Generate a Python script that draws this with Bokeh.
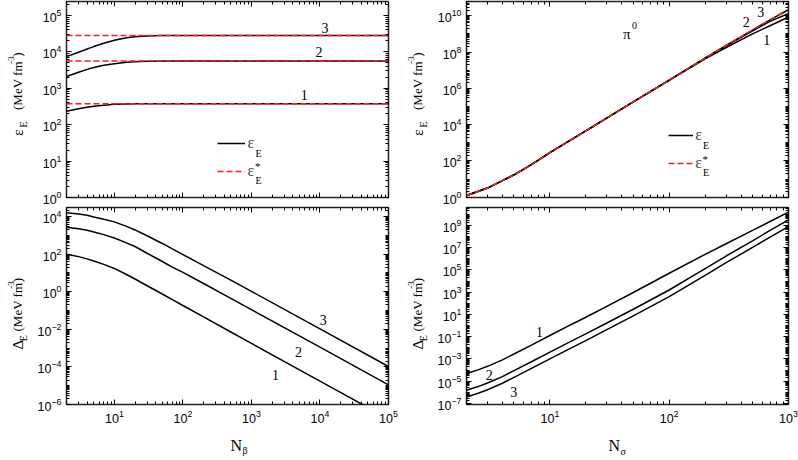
from math import pi
from bokeh.plotting import figure
from bokeh.models import (Range1d, FixedTicker, LogAxis, LogTickFormatter, Label, Legend,
                          LegendItem, CustomJSTickFormatter)
from bokeh.layouts import column, row
from bokeh.embed import file_html
from bokeh.resources import INLINE
from bokeh.core.properties import value

# ---------------- data ----------------
# top-left : eps_E (solid) and eps*_E (dashed) versus N_beta
N_beta_eps = [2, 3, 4, 5, 7, 10, 15, 20, 30, 50, 100, 1000, 100000]
eps_beta_1 = [234, 275, 302, 320, 343, 363, 373, 377, 378, 378, 378, 378, 378]
eps_beta_2 = [2110, 2750, 3310, 3720, 4270, 4730, 5190, 5370, 5560, 5620, 5640, 5640, 5640]
eps_beta_3 = [7410, 9770, 12000, 14000, 17200, 20900, 24500, 26000, 27400, 28200, 28400, 28400, 28400]
eps_star_beta_1 = [378, 378, 378, 378, 378, 378, 378, 378, 378, 378, 378, 378, 378]
eps_star_beta_2 = [5640, 5640, 5640, 5640, 5640, 5640, 5640, 5640, 5640, 5640, 5640, 5640, 5640]
eps_star_beta_3 = [28400, 28400, 28400, 28400, 28400, 28400, 28400, 28400, 28400, 28400, 28400, 28400, 28400]

# bottom-left : Delta_E versus N_beta
N_beta_delta = [2, 3, 4, 5, 7, 10, 15, 20, 30, 50, 70, 100, 200, 500, 1000, 10000, 100000]
delta_beta_1 = [100, 74.1, 56.2, 43.7, 28.8, 17.4, 8.32, 4.79, 2.09, 0.759, 0.380, 0.186,
                4.57e-2, 7.24e-3, 1.78e-3, 1.74e-5, 1.74e-7]
delta_beta_2 = [2690, 2240, 1860, 1510, 1100, 724, 398, 257, 112, 40.7, 20.4, 10.7,
                2.75, 0.447, 0.112, 1.12e-3, 1.12e-5]
delta_beta_3 = [15800, 13800, 11700, 9550, 7240, 5250, 3020, 1950, 955, 372, 191, 95.5,
                24.5, 4.17, 1.05, 1.05e-2, 1.05e-4]

# top-right : eps_E and eps*_E versus N_sigma (pi0)
N_sigma_eps = [2, 3, 4, 5, 7, 10, 15, 20, 50, 100, 200, 300, 500, 700, 1000]
eps_star_sigma = [1.26, 3.24, 8.32, 17.4, 63.1, 288, 1450, 4570, 1.78e5, 2.82e6, 4.57e7,
                  2.29e8, 1.66e9, 6.03e9, 2.24e10]
eps_sigma_3 = [1.26, 3.24, 8.32, 17.4, 63.1, 288, 1450, 4570, 1.78e5, 2.82e6, 4.57e7,
               2.29e8, 1.62e9, 5.89e9, 2.14e10]
eps_sigma_2 = [1.26, 3.24, 8.32, 17.4, 63.1, 288, 1450, 4570, 1.78e5, 2.82e6, 4.57e7,
               2.19e8, 1.48e9, 4.90e9, 1.32e10]
eps_sigma_1 = [1.26, 3.24, 8.32, 17.4, 63.1, 288, 1450, 4570, 1.78e5, 2.75e6, 4.17e7,
               1.78e8, 1.00e9, 2.82e9, 8.51e9]

# bottom-right : Delta_E versus N_sigma
N_sigma_delta = [2, 2.5, 3, 4, 5, 7, 10, 15, 20, 30, 50, 100, 200, 300, 500, 700, 1000]
delta_sigma_1 = [4.90e-5, 1.05e-4, 2.19e-4, 8.32e-4, 2.82e-3, 1.78e-2, 0.129, 1.20, 5.62, 53.7,
                 933, 5.01e4, 2.51e6, 2.24e7, 3.55e8, 2.24e9, 1.58e10]
delta_sigma_2 = [1.55e-6, 3.31e-6, 6.92e-6, 2.63e-5, 8.91e-5, 5.62e-4, 4.07e-3, 3.80e-2, 0.178,
                 1.70, 29.5, 1580, 1.32e5, 1.78e6, 4.17e7, 3.55e8, 3.16e9]
delta_sigma_3 = [3.89e-7, 8.32e-7, 1.74e-6, 6.61e-6, 2.24e-5, 1.41e-4, 1.02e-3, 9.55e-3, 4.47e-2,
                 0.427, 7.41, 398, 3.31e4, 4.47e5, 1.05e7, 8.91e7, 7.94e8]

# tick label exponents
x_beta_major_exp = [1, 2, 3, 4, 5]
x_sigma_major_exp = [1, 2, 3]
tl_y_major_exp = [0, 1, 2, 3, 4, 5]
bl_y_major_exp = [-6, -4, -2, 0, 2, 4]
tr_y_major_exp = [0, 2, 4, 6, 8, 10]
br_y_major_exp = [-7, -5, -3, -1, 1, 3, 5, 7, 9]

# curve number labels (x, y, text)
tl_curve_labels = [(1.18e4, 4.68e4, "3"), (9.7e3, 9.8e3, "2"), (5.9e3, 661, "1")]
bl_curve_labels = [(1.12e4, 0.030, "3"), (4.84e3, 6.3e-4, "2"), (2.25e3, 3.9e-5, "1")]
tr_curve_labels = [(586, 1.66e10, "3"), (442, 4.4e9, "2"), (658, 4.8e8, "1")]
br_curve_labels = [(8.2, 0.275, "1"), (3.11, 3.6e-5, "2"), (4.99, 1.15e-6, "3")]

# ---------------- layout / style ----------------
SANS = "Liberation Sans"
SERIF = "Liberation Serif"
FW = 322
TOP_FH = 196          # top frames: page y 1 .. 197
TOP_BB = 9
BOT_FH = 197          # bottom frames: page y 207 .. 404
BOT_BB = 26
TOP_H = 1 + TOP_FH + TOP_BB
BOT_H = 1 + BOT_FH + BOT_BB
XLAB_H = 460 - TOP_H - BOT_H
TOP_FB = 1 + TOP_FH   # page y of top frames' bottom edge
LAB_W_L = 30
LAB_W_R = 32


def log_ticker(lo_exp, hi_exp, major_exps):
    majors = [10.0 ** e for e in major_exps]
    minors = []
    for e in range(lo_exp, hi_exp + 1):
        for m in range(1, 10):
            if m == 1 and e in major_exps:
                continue
            minors.append(m * 10.0 ** e)
    return FixedTicker(ticks=majors, minor_ticks=minors)


def style_axis(ax, ticker, show_labels):
    ax.ticker = ticker
    ax.axis_line_color = None
    ax.major_tick_in = 5
    ax.major_tick_out = 0
    ax.minor_tick_in = 3
    ax.minor_tick_out = 0
    ax.major_tick_line_color = "black"
    ax.minor_tick_line_color = "black"
    ax.axis_label = None
    if show_labels:
        ax.formatter = LogTickFormatter()
        ax.major_label_text_font = SANS
        ax.major_label_text_font_size = "12.5px"
        ax.major_label_text_color = "black"
        ax.major_label_standoff = 5
    else:
        ax.formatter = CustomJSTickFormatter(code="return ''")
        ax.major_label_text_font_size = "1px"
        ax.major_label_standoff = 0


def make_panel(xr, yr, fh, mbt, mbb, xt, yt, xlabels):
    p = figure(x_axis_type="log", y_axis_type="log",
               x_range=Range1d(*xr), y_range=Range1d(*yr),
               frame_width=FW, frame_height=fh,
               min_border_left=36, min_border_right=10,
               min_border_top=mbt, min_border_bottom=mbb,
               toolbar_location=None, output_backend="svg")
    p.grid.visible = False
    p.outline_line_color = "#222222"
    p.outline_line_width = 1.5
    p.background_fill_color = "white"
    p.border_fill_color = "white"
    style_axis(p.xaxis[0], xt, xlabels)
    style_axis(p.yaxis[0], yt, True)
    top = LogAxis()
    style_axis(top, xt, False)
    p.add_layout(top, "above")
    right = LogAxis()
    style_axis(right, yt, False)
    p.add_layout(right, "right")
    return p


def text_fig(w, h):
    f = figure(width=w, height=h, x_range=Range1d(0, w), y_range=Range1d(h, 0),
               min_border=0, toolbar_location=None, output_backend="svg",
               x_axis_location=None, y_axis_location=None)
    f.grid.visible = False
    f.outline_line_color = None
    f.background_fill_color = "white"
    f.border_fill_color = "white"
    return f


def dtxt(p, x, y, s, size, angle=0.0, font=SERIF, align="left", baseline="alphabetic"):
    p.add_layout(Label(x=x, y=y, text=s, angle=angle, text_font=font, text_font_size=size,
                       text_align=align, text_baseline=baseline, text_color="black"))


def stxt(p, fx, fy, s, size):
    p.add_layout(Label(x=fx, y=fy, x_units="screen", y_units="screen", text=s,
                       text_font=SERIF, text_font_size=size, text_align="left",
                       text_baseline="alphabetic", text_color="black"))


def curve_labels(p, items):
    for (x, y, s) in items:
        p.add_layout(Label(x=x, y=y, text=s, text_font=SERIF, text_font_size="14px",
                           text_align="center", text_baseline="middle", text_color="black"))


def ylabel(f, x0, y0, greek, g, sub, paren, sup, close):
    # positions given in page pixels; (x0, y0) = top-left of the text strip
    a = pi / 2
    dtxt(f, 17 - x0, g - y0, greek, "15px", angle=a)
    dtxt(f, 23 - x0, sub - y0, "E", "10px", angle=a)
    dtxt(f, 17 - x0, paren - y0, "(MeV fm", "13px", angle=a)
    dtxt(f, 10 - x0, sup - y0, "-3", "9px", angle=a)
    dtxt(f, 17 - x0, close - y0, ")", "13px", angle=a)


xt_beta = log_ticker(0, 5, x_beta_major_exp)
xt_sigma = log_ticker(0, 3, x_sigma_major_exp)

# ---- top-left ----
tl = make_panel((2, 1e5), (1, 10 ** (TOP_FH / 36.4)), TOP_FH, 1, TOP_BB,
                xt_beta, log_ticker(0, 6, tl_y_major_exp), False)
s_lines = []
for ys in (eps_beta_1, eps_beta_2, eps_beta_3):
    s_lines.append(tl.line(N_beta_eps, ys, line_color="black", line_width=1.5))
d_lines = []
for ys in (eps_star_beta_1, eps_star_beta_2, eps_star_beta_3):
    d_lines.append(tl.line(N_beta_eps, ys, line_color="#ff1a1a", line_width=1.5, line_dash="6 3"))
curve_labels(tl, tl_curve_labels)
leg = Legend(items=[LegendItem(label=value("ε"), renderers=[s_lines[0]]),
                    LegendItem(label=value("ε"), renderers=[d_lines[0]])],
             location=(150.5, TOP_FB - 180.5), padding=0, margin=0, spacing=8,
             glyph_width=28, glyph_height=20, label_height=20, label_width=8,
             label_standoff=3, border_line_alpha=0, background_fill_alpha=0,
             label_text_font=SERIF, label_text_font_size="16px")
tl.add_layout(leg)
stxt(tl, 189, TOP_FB - 152.5, "E", "10px")
stxt(tl, 188.5, TOP_FB - 165.5, "*", "11px")
stxt(tl, 189, TOP_FB - 179.5, "E", "10px")

# ---- top-right ----
tr = make_panel((2, 1e3), (10 ** -0.01, 10 ** (-0.01 + TOP_FH / 18.16)), TOP_FH, 1, TOP_BB,
                xt_sigma, log_ticker(-1, 11, tr_y_major_exp), False)
r_s = None
for ys in (eps_sigma_1, eps_sigma_2, eps_sigma_3):
    r_s = tr.line(N_sigma_eps, ys, line_color="black", line_width=1.5)
r_d = tr.line(N_sigma_eps, eps_star_sigma, line_color="#ff1a1a", line_width=1.5, line_dash="6 3")
curve_labels(tr, tr_curve_labels)
leg2 = Legend(items=[LegendItem(label=value("ε"), renderers=[r_s]),
                     LegendItem(label=value("ε"), renderers=[r_d])],
              location=(202.3, TOP_FB - 173), padding=0, margin=0, spacing=8,
              glyph_width=25, glyph_height=20, label_height=20, label_width=8,
              label_standoff=2, border_line_alpha=0, background_fill_alpha=0,
              label_text_font=SERIF, label_text_font_size="16px")
tr.add_layout(leg2)
stxt(tr, 236.5, TOP_FB - 145, "E", "10px")
stxt(tr, 236, TOP_FB - 158, "*", "11px")
stxt(tr, 236.5, TOP_FB - 172, "E", "10px")
stxt(tr, 622.5 - 466, TOP_FB - 33, "π", "15px")
stxt(tr, 631.5 - 466, TOP_FB - 25, "0", "10px")

# ---- bottom-left ----
bl = make_panel((2, 1e5), (1e-6, 10 ** (-6 + BOT_FH / 18.79)), BOT_FH, 1, BOT_BB,
                xt_beta, log_ticker(-7, 5, bl_y_major_exp), True)
for ys in (delta_beta_1, delta_beta_2, delta_beta_3):
    bl.line(N_beta_delta, ys, line_color="black", line_width=1.5)
curve_labels(bl, bl_curve_labels)

# ---- bottom-right ----
br = make_panel((2, 1e3), (10 ** -7.09, 10 ** (-7.09 + BOT_FH / 11.13)), BOT_FH, 1, BOT_BB,
                xt_sigma, log_ticker(-8, 11, br_y_major_exp), True)
for ys in (delta_sigma_1, delta_sigma_2, delta_sigma_3):
    br.line(N_sigma_delta, ys, line_color="black", line_width=1.5)
curve_labels(br, br_curve_labels)

# ---- axis titles (text-only strips) ----
lab_tl = text_fig(LAB_W_L, TOP_H)
ylabel(lab_tl, 0, 0, "ε", 141, 132.5, 114, 65.5, 58)
lab_tr = text_fig(LAB_W_R, TOP_H)
ylabel(lab_tr, 398 - 400, 0, "ε", 141, 132.5, 114, 65.5, 58)
lab_bl = text_fig(LAB_W_L, BOT_H)
ylabel(lab_bl, 0, TOP_H, "Δ", 367.5, 358, 347, 298.5, 291)
lab_br = text_fig(LAB_W_R, BOT_H)
ylabel(lab_br, 398 - 400, TOP_H, "Δ", 367.5, 358, 347, 298.5, 291)

xlab = text_fig(798, XLAB_H)
y0 = TOP_H + BOT_H
dtxt(xlab, 230, 445 - y0, "N", "16px")
dtxt(xlab, 242, 450 - y0, "β", "10px")
dtxt(xlab, 608, 445 - y0, "N", "16px")
dtxt(xlab, 620, 451 - y0, "σ", "10px")

layout = column(row(lab_tl, tl, lab_tr, tr), row(lab_bl, bl, lab_br, br), xlab)
open("out.html", "w").write(file_html(layout, INLINE))
